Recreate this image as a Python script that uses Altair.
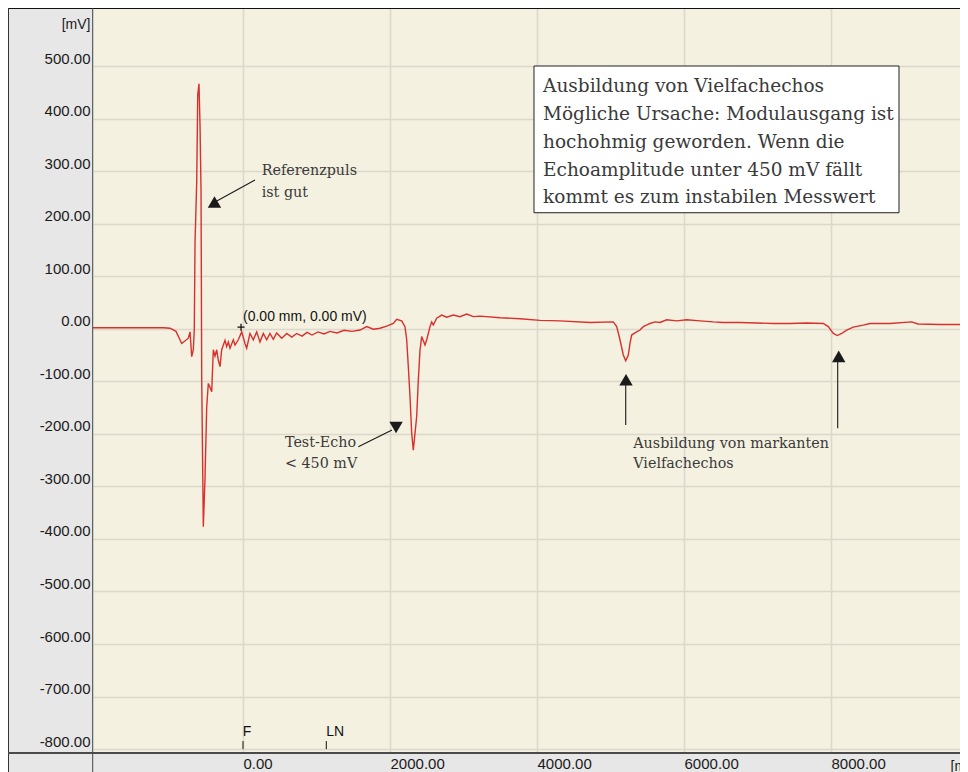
import altair as alt
import pandas as pd

# ---- echo curve: distance [mm] and amplitude [mV] ----
dist_mm = [-2041, -1084, -993, -912, -834, -744, -721, -698, -676, -663,
           -653, -630, -616, -599, -585, -571, -562, -540, -517, -494,
           -472, -449, -426, -404, -381, -358, -336, -313, -290, -245,
           -222, -200, -177, -132, -109, -64, -18, 27, 50, 95,
           140, 186, 231, 276, 322, 367, 412, 458, 527, 595,
           663, 731, 803, 871, 939, 1020, 1102, 1184, 1279, 1374,
           1483, 1592, 1683, 1773, 1864, 1955, 2045, 2091, 2159, 2204,
           2227, 2249, 2272, 2295, 2317, 2340, 2363, 2385, 2408, 2431,
           2476, 2499, 2544, 2567, 2589, 2635, 2703, 2771, 2861, 2952,
           3043, 3133, 3224, 3497, 3769, 4041, 4313, 4721, 5038, 5084,
           5129, 5174, 5207, 5242, 5265, 5288, 5333, 5401, 5446, 5537,
           5605, 5673, 5764, 5900, 6036, 6217, 6398, 6534, 6762, 6989,
           7215, 7442, 7669, 7895, 7963, 8031, 8086, 8145, 8213, 8303,
           8439, 8530, 8802, 9098, 9183, 9483, 9864]
ampl_mv = [2, 2, 1, -5, -28, -18, -6, -53, -40, -2,
           163, 279, 445, 466, 388, 260, -94, -377, -284, -149,
           -104, -112, -120, -40, -52, -40, -60, -72, -40, -22,
           -34, -25, -37, -21, -31, -21, -6, -28, -37, -9,
           -21, -6, -25, -9, -21, -9, -20, -8, -18, -9,
           -16, -9, -14, -7, -12, -6, -10, -5, -8, -3,
           -5, -2.5, 4, -1, 1, 5, 10, 18, 15, 4,
           -21, -72, -129, -199, -231, -199, -167, -98, -41, -15,
           -31, -21, 4, 13, 7, 20, 26, 22, 26, 23,
           28, 23, 24, 21, 19, 16, 15, 12, 13, 4,
           -21, -50, -61, -50, -28, -12, -8, -2.5, 4, 10,
           13, 12, 17, 15, 17, 15, 13, 12, 12, 11,
           10, 10, 11, 10, 4, -9, -13, -9, -2.5, 3,
           7, 10, 10, 13, 9, 8, 8]

y_ticks = [-800, -700, -600, -500, -400, -300, -200, -100, 0, 100, 200, 300, 400, 500]
x_ticks = [0, 2000, 4000, 6000, 8000]

# ---- annotation texts ----
serif_text = ["Referenzpuls", "ist gut", "Test-Echo", "< 450 mV",
              "Ausbildung von markanten", "Vielfachechos"]
serif_x = [254, 254, 571, 571, 5310, 5310]
serif_y = [292.5, 251.2, -224.6, -265.1, -227.6, -265.7]

box_text = ["Ausbildung von Vielfachechos",
            "Mögliche Ursache: Modulausgang ist",
            "hochohmig geworden. Wenn die",
            "Echoamplitude unter 450 mV fällt",
            "kommt es zum instabilen Messwert"]
box_x = [4082] * 5
box_y = [451.1, 397.2, 343.4, 291.2, 238.7]
box_x1, box_x2, box_y1, box_y2 = 3959, 8925, 500, 220.8

cursor_text = ["(0.00 mm, 0.00 mV)"]
cursor_x = [0]
cursor_y = [15.4]

marker_text = ["F", "LN"]
marker_x = [-4, 1133]
marker_y = [-775.2, -775.2]
marker_tick_x = [0, 1133]
marker_tick_y1 = [-784.7, -784.7]
marker_tick_y2 = [-800, -800]

# arrows: shaft start / end and head position
shaft_x1 = [163, 1569, 5207, 8091]
shaft_y1 = [283.0, -224.6, -183.3, -189.6]
shaft_x2 = [-381, 2027, 5207, 8091]
shaft_y2 = [241.2, -192.6, -101.4, -59.6]
head_x = [-388, 2082, 5211, 8105]
head_y = [241.2, -188.0, -97.1, -52.5]
head_shape = ["triangle-up", "triangle-down", "triangle-up", "triangle-up"]

W, H = 867, 744
PAD_L, PAD_B = 85, 20

xs = alt.Scale(domain=[-2041, 9755], nice=False, zero=False)
ys = alt.Scale(domain=[-805.5, 610.4], nice=False, zero=False)

SANS = "Liberation Sans"
SERIF = "DejaVu Serif"
TXT = "#3a3a3a"

curve = pd.DataFrame({"mm": dist_mm, "mv": ampl_mv, "i": list(range(len(dist_mm)))})

x_axis = alt.Axis(values=x_ticks, labelExpr="datum.value + '.00'", grid=True,
                  gridColor="#dcd8ca", gridWidth=1.5, ticks=False, domain=False,
                  labelAlign="left", labelBaseline="top", labelPadding=4,
                  labelFont=SANS, labelFontSize=15, labelColor="#1a1a1a",
                  labelFlush=False, labelOverlap=False,
                  title="[mm]", titleAngle=0, titleX=857, titleY=18,
                  titleAlign="left", titleBaseline="alphabetic",
                  titleFont=SANS, titleFontSize=14, titleFontWeight="normal",
                  titleColor="#1a1a1a")
y_axis = alt.Axis(values=y_ticks, labelExpr="datum.value + '.00'", grid=True,
                  gridColor="#dcd8ca", gridWidth=1.5, ticks=False, domain=False,
                  labelAlign="right", labelBaseline="bottom", labelPadding=3,
                  labelFont=SANS, labelFontSize=15, labelColor="#1a1a1a",
                  labelOverlap=False, labelFlush=False,
                  title="[mV]", titleAngle=0, titleX=-3, titleY=20,
                  titleAlign="right", titleBaseline="alphabetic",
                  titleFont=SANS, titleFontSize=14, titleFontWeight="normal",
                  titleColor="#1a1a1a")

line = alt.Chart(curve).mark_line(color="#d8302c", strokeWidth=1.4, clip=True).encode(
    x=alt.X("mm:Q", scale=xs, axis=x_axis),
    y=alt.Y("mv:Q", scale=ys, axis=y_axis),
    order="i:Q",
)

box_df = pd.DataFrame({"x1": [box_x1], "x2": [box_x2], "y1": [box_y1], "y2": [box_y2]})
box = alt.Chart(box_df).mark_rect(fill="white", stroke="#222222", strokeWidth=1).encode(
    x=alt.X("x1:Q", scale=xs), x2="x2:Q",
    y=alt.Y("y1:Q", scale=ys), y2="y2:Q",
)

box_df_t = pd.DataFrame({"x": box_x, "y": box_y, "t": box_text})
box_t = alt.Chart(box_df_t).mark_text(font=SERIF, fontSize=18.5, color=TXT,
                                      align="left", baseline="alphabetic").encode(
    x=alt.X("x:Q", scale=xs), y=alt.Y("y:Q", scale=ys), text="t:N")

serif_df = pd.DataFrame({"x": serif_x, "y": serif_y, "t": serif_text})
serif_t = alt.Chart(serif_df).mark_text(font=SERIF, fontSize=14.3, color=TXT,
                                        align="left", baseline="alphabetic").encode(
    x=alt.X("x:Q", scale=xs), y=alt.Y("y:Q", scale=ys), text="t:N")

cur_df = pd.DataFrame({"x": cursor_x, "y": cursor_y, "t": cursor_text})
cur_t = alt.Chart(cur_df).mark_text(font=SANS, fontSize=14, color="#111111",
                                    align="left", baseline="alphabetic").encode(
    x=alt.X("x:Q", scale=xs), y=alt.Y("y:Q", scale=ys), text="t:N")

cross_df = pd.DataFrame({"x": [-27], "y": [3]})
cross = alt.Chart(cross_df).mark_point(shape="M-1,0L1,0M0,-1L0,1", size=50, filled=False,
                                       stroke="#111111", strokeWidth=1.3, opacity=1).encode(
    x=alt.X("x:Q", scale=xs), y=alt.Y("y:Q", scale=ys))

mk_df = pd.DataFrame({"x": marker_x, "y": marker_y, "t": marker_text})
mk_t = alt.Chart(mk_df).mark_text(font=SANS, fontSize=14, color="#111111",
                                  align="left", baseline="alphabetic").encode(
    x=alt.X("x:Q", scale=xs), y=alt.Y("y:Q", scale=ys), text="t:N")
mk_tick_df = pd.DataFrame({"x": marker_tick_x, "ty1": marker_tick_y1, "ty2": marker_tick_y2})
mk_tick = alt.Chart(mk_tick_df).mark_rule(color="#111111", strokeWidth=1).encode(
    x=alt.X("x:Q", scale=xs), y=alt.Y("ty1:Q", scale=ys), y2="ty2:Q")

shaft_df = pd.DataFrame({"x1": shaft_x1, "y1": shaft_y1, "x2": shaft_x2, "y2": shaft_y2})
shafts = alt.Chart(shaft_df).mark_rule(color="#1a1a1a", strokeWidth=1.1).encode(
    x=alt.X("x1:Q", scale=xs), y=alt.Y("y1:Q", scale=ys), x2="x2:Q", y2="y2:Q")

head_df = pd.DataFrame({"x": head_x, "y": head_y, "s": head_shape})
heads = alt.Chart(head_df).mark_point(filled=True, size=180, color="#1a1a1a", opacity=1).encode(
    x=alt.X("x:Q", scale=xs), y=alt.Y("y:Q", scale=ys),
    shape=alt.Shape("s:N", scale=None))


def frame_rule(x1, x2, y1, y2, color, width):
    return alt.Chart(pd.DataFrame({"k": [0]})).mark_rule(color=color, strokeWidth=width).encode(
        x=alt.value(x1), x2=alt.value(x2), y=alt.value(y1), y2=alt.value(y2))


frames = [
    frame_rule(-PAD_L, W, 0.5, 0.5, "#111111", 1),
    frame_rule(-PAD_L + 0.5, -PAD_L + 0.5, 0, H + PAD_B, "#333333", 1),
    frame_rule(-0.3, -0.3, 0, H + PAD_B, "#444444", 1),
    frame_rule(-PAD_L, W, H + 1, H + 1, "#4a4a4a", 2),
]

chart = alt.layer(line, box, box_t, serif_t, cur_t, cross, mk_t, mk_tick,
                  shafts, heads, *frames).properties(
    width=W, height=H,
    background="#e7e7e7",
    autosize=alt.AutoSizeParams(type="none"),
    padding={"left": PAD_L, "top": 0, "right": 0, "bottom": PAD_B},
).configure_view(fill="#f4f1e1", stroke="transparent")

chart.save("out.html", embed_options={"renderer": "svg", "actions": False})
